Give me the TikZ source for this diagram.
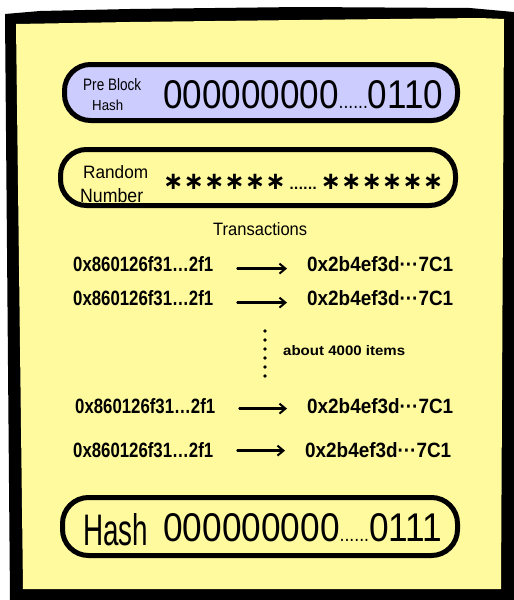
\documentclass[tikz,border=0pt]{standalone}
\usepackage{fontspec}
\setmainfont{Liberation Sans}
\newfontfamily\symfont{DejaVu Sans}
\usepackage{graphicx}
\usetikzlibrary{arrows.meta}
\definecolor{pad}{HTML}{FFFA9E}
\definecolor{lav}{HTML}{CCCCFF}
\begin{document}
\begin{tikzpicture}[x=1pt,y=-1pt,
  pill/.style={draw=black,line width=5pt,rounded corners=26pt,inner sep=0pt},
  txt/.style={inner sep=0pt,anchor=base west},
  flow/.style={line width=2.3pt,line cap=round,-{Straight Barb[length=6pt,width=10pt,line width=2pt]},
    shorten <=24pt,shorten >=20pt}]
\fill[white] (0,0) rectangle (514,600);
\useasboundingbox (0,0) rectangle (514,600);
% frame
\fill[black] (5,14) -- (40,11) -- (130,9) -- (300,7) -- (470,8) -- (514,12) -- (514,600) -- (10,600) -- cycle;
\fill[pad] (16,24) -- (130,22) -- (300,20) -- (480,18) -- (504,19) -- (501,589) -- (23,589) -- cycle;
% pills
\node[pill,fill=lav,minimum width=393pt,minimum height=56pt] (p1) at (261,92.5) {};
\node[pill,fill=pad,minimum width=395pt,minimum height=56pt] (p2) at (258,177.5) {};
\node[pill,fill=pad,minimum width=395pt,minimum height=58pt] (p3) at (260,526.5) {};
% pill 1 texts
\node[txt] (pb1) at (83,90) {\resizebox{58pt}{12pt}{Pre Block}};
\node[txt] (pb2) at (92,110) {\resizebox{31pt}{10.5pt}{Hash}};
\node[txt] (h1) at (163,108) {\resizebox{280pt}{28pt}{000000000{\tiny......}0110}};
% pill 2 texts
\node[txt] (rn1) at (83,178) {\resizebox{65pt}{13pt}{Random}};
\node[txt] (rn2) at (80,202) {\resizebox{63pt}{14pt}{Number}};
\node[txt] (ast) at (163,189) {\resizebox{280pt}{!}{\symfont\bfseries ∗∗∗∗∗∗{\tiny\hspace{1.5pt}......\hspace{1.5pt}}∗∗∗∗∗∗}};
% transactions
\node[txt] (tt) at (213,235) {\resizebox{94pt}{13pt}{Transactions}};
\node[txt] (l1) at (73,271) {\resizebox{140pt}{15pt}{\bfseries 0x860126f31…2f1}};
\node[txt] (r1) at (307,271) {\resizebox{146pt}{15pt}{\bfseries 0x2b4ef3d···7C1}};
\node[txt] (l2) at (73,305) {\resizebox{140pt}{15pt}{\bfseries 0x860126f31…2f1}};
\node[txt] (r2) at (307,305) {\resizebox{146pt}{15pt}{\bfseries 0x2b4ef3d···7C1}};
\node[txt] (l3) at (75,413) {\resizebox{140pt}{15pt}{\bfseries 0x860126f31…2f1}};
\node[txt] (r3) at (307,413) {\resizebox{146pt}{15pt}{\bfseries 0x2b4ef3d···7C1}};
\node[txt] (l4) at (73,457) {\resizebox{140pt}{15pt}{\bfseries 0x860126f31…2f1}};
\node[txt] (r4) at (305,457) {\resizebox{146pt}{15pt}{\bfseries 0x2b4ef3d···7C1}};
\draw[flow] ([yshift=-5pt]l1.east) -- ([yshift=-5pt]r1.west);
\draw[flow] ([yshift=-5pt]l2.east) -- ([yshift=-5pt]r2.west);
\draw[flow] ([yshift=-3pt]l3.east) -- ([yshift=-3pt]r3.west);
\draw[flow] ([yshift=-1pt]l4.east) -- ([yshift=-1pt]r4.west);
% vertical dots
\foreach \k in {0,...,5} \fill[black] (265,331+9*\k) circle (1.8);
\node[txt] (ab) at (283,355) {\resizebox{122pt}{10pt}{\bfseries about 4000 items}};
% hash pill
\node[txt] (hs) at (83,545) {\resizebox{65pt}{32pt}{Hash}};
\node[txt] (h2) at (163,541) {\resizebox{279pt}{28pt}{000000000{\tiny......}0111}};
\end{tikzpicture}
\end{document}
